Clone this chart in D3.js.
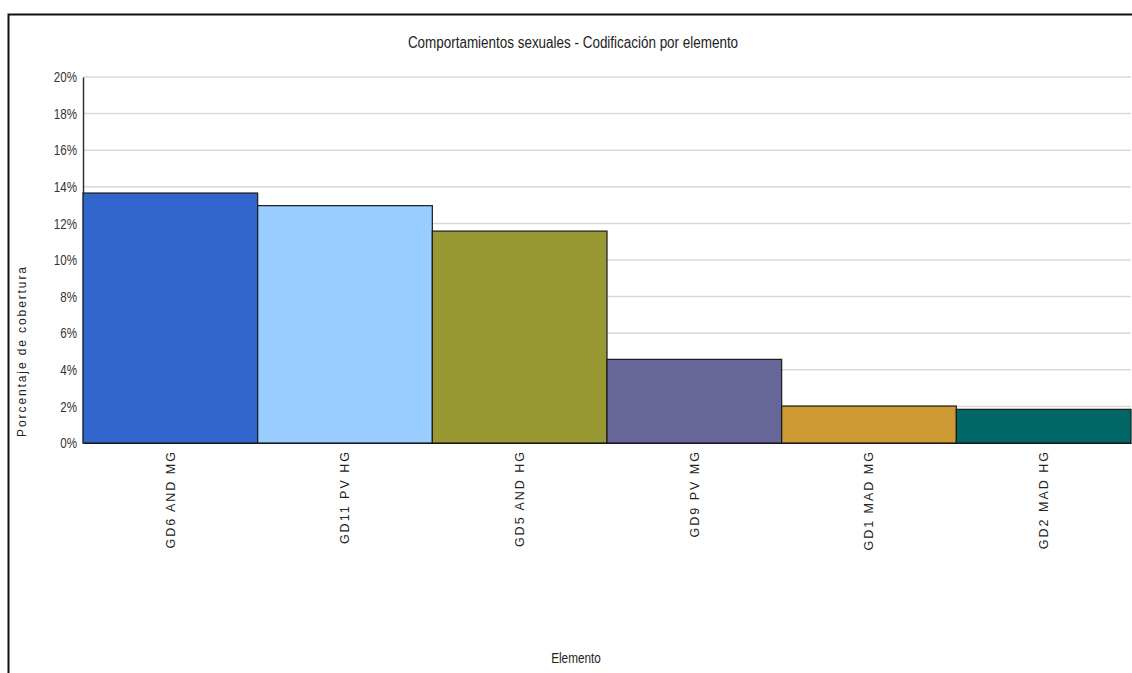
<!DOCTYPE html>
<html>
<head>
<meta charset="utf-8">
<script src="https://cdn.jsdelivr.net/npm/d3@7"></script>
<style>
  html, body { margin: 0; padding: 0; background: #fff; }
  svg { display: block; }
</style>
</head>
<body>
<svg id="chart" width="1132" height="673"></svg>
<script>
// Coverage percentage by coded element
const categories = ["GD6 AND MG", "GD11 PV HG", "GD5 AND HG", "GD9 PV MG", "GD1 MAD MG", "GD2 MAD HG"];
const coverage = [13.66, 12.97, 11.58, 4.57, 2.02, 1.84];
const yTicks = [0, 2, 4, 6, 8, 10, 12, 14, 16, 18, 20];

const title = "Comportamientos sexuales - Codificación por elemento";
const yTitle = "Porcentaje de cobertura";
const xTitle = "Elemento";

const svg = d3.select("#chart");
const W = 1132, H = 673;
const plot = { left: 83, right: 1131, top: 77, bottom: 443 };

const sans = "'Liberation Sans', Arial, sans-serif";

// squeeze a text node horizontally to mimic a condensed face
function condense(sel, factor) {
  sel.each(function () {
    const len = this.getComputedTextLength();
    d3.select(this).attr("textLength", len * factor).attr("lengthAdjust", "spacingAndGlyphs");
  });
}

const x = d3.scaleBand().domain(categories).range([plot.left, plot.right]).padding(0);
const y = d3.scaleLinear().domain([0, 20]).range([plot.bottom, plot.top]);
const color = d3.scaleOrdinal().domain(categories)
  .range(["#3366cc", "#99ccff", "#999933", "#666699", "#cc9933", "#006666"]);

// frame
svg.append("path")
  .attr("d", `M8.5,${H} L8.5,14.5 L${W},14.5`)
  .attr("fill", "none").attr("stroke", "#111").attr("stroke-width", 2);

// title
svg.append("text")
  .attr("x", 573).attr("y", 48)
  .attr("text-anchor", "middle")
  .attr("font-family", sans).attr("font-size", 16).attr("fill", "#222")
  .text(title)
  .call(condense, 0.84);

// horizontal gridlines
svg.append("g").selectAll("line")
  .data(yTicks.filter(d => d > 0))
  .join("line")
  .attr("x1", plot.left).attr("x2", plot.right)
  .attr("y1", d => y(d)).attr("y2", d => y(d))
  .attr("stroke", "#d9d9d9").attr("stroke-width", 1.5);

// y axis
const yAxis = svg.append("g")
  .attr("transform", `translate(${plot.left},0)`)
  .call(d3.axisLeft(y).tickValues(yTicks).tickSize(0).tickPadding(6).tickFormat(d => d + "%"));
yAxis.select(".domain").attr("stroke", "#333").attr("stroke-width", 1.5);
yAxis.selectAll("text")
  .attr("font-family", sans).attr("font-size", 14.5).attr("fill", "#333")
  .call(condense, 0.8);

// bars
svg.append("g").selectAll("rect")
  .data(categories)
  .join("rect")
  .attr("x", d => x(d))
  .attr("width", x.bandwidth())
  .attr("y", (d, i) => y(coverage[i]))
  .attr("height", (d, i) => y(0) - y(coverage[i]))
  .attr("fill", d => color(d))
  .attr("stroke", "#1a1a1a").attr("stroke-width", 1.2);

// x axis labels (rotated)
const xAxis = svg.append("g")
  .attr("transform", `translate(0,${plot.bottom})`)
  .call(d3.axisBottom(x).tickSize(0).tickPadding(0));
xAxis.select(".domain").attr("stroke", "#1a1a1a").attr("stroke-width", 1.2);
xAxis.selectAll("text")
  .attr("font-family", sans).attr("font-size", 12.5).attr("fill", "#222")
  .attr("letter-spacing", 2)
  .attr("transform", "rotate(-90)")
  .attr("text-anchor", "end")
  .attr("x", -7).attr("y", 0).attr("dy", "0.35em");

// y title
svg.append("text")
  .attr("transform", "translate(26,351) rotate(-90)")
  .attr("text-anchor", "middle")
  .attr("font-family", sans).attr("font-size", 12).attr("fill", "#222")
  .attr("letter-spacing", 1.9)
  .text(yTitle);

// x title
svg.append("text")
  .attr("x", 576).attr("y", 663)
  .attr("text-anchor", "middle")
  .attr("font-family", sans).attr("font-size", 14).attr("fill", "#222")
  .text(xTitle)
  .call(condense, 0.84);
</script>
</body>
</html>
